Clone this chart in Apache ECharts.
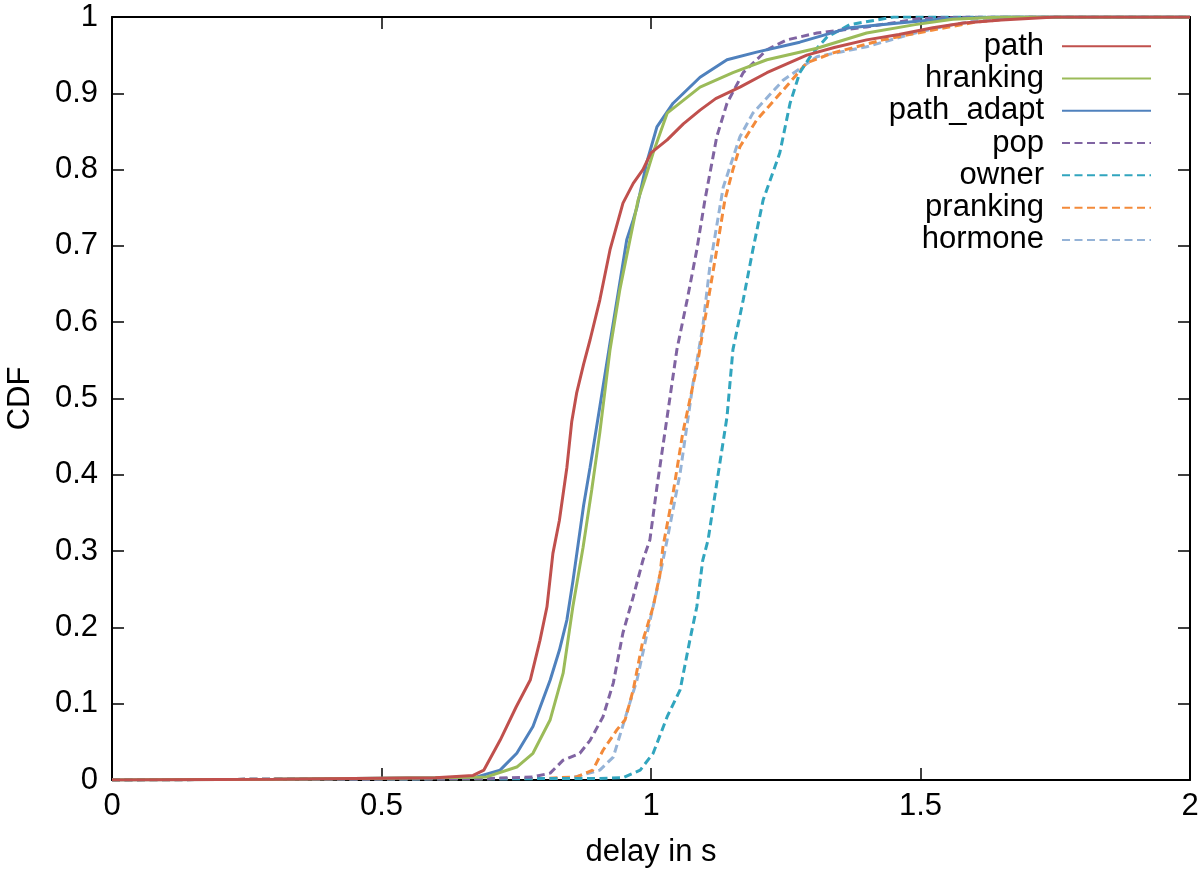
<!DOCTYPE html>
<html><head><meta charset="utf-8">
<script src="https://cdn.jsdelivr.net/npm/echarts@6/dist/echarts.min.js"></script>
<style>html,body{margin:0;padding:0;background:#fff}#c{width:1200px;height:869px}</style>
</head><body><div id="c"></div>
<script>
const seriesNames = ['path','hranking','path_adapt','pop','owner','pranking','hormone'];
const xTicks = [0, 0.5, 1, 1.5, 2];
const yTicks = [0,0.1,0.2,0.3,0.4,0.5,0.6,0.7,0.8,0.9,1];
const pathData = [[0,0],[0.3,0.001],[0.6,0.003],[0.67,0.006],[0.69,0.013],[0.72,0.052],[0.75,0.096],[0.776,0.131],[0.794,0.183],[0.807,0.227],[0.818,0.297],[0.83,0.34],[0.844,0.41],[0.853,0.47],[0.862,0.507],[0.875,0.545],[0.887,0.577],[0.905,0.629],[0.924,0.695],[0.948,0.756],[0.967,0.782],[0.985,0.80],[1.0,0.822],[1.03,0.839],[1.06,0.86],[1.091,0.878],[1.12,0.893],[1.165,0.908],[1.215,0.927],[1.289,0.95],[1.34,0.96],[1.40,0.97],[1.46,0.977],[1.523,0.986],[1.58,0.992],[1.65,0.996],[1.75,1],[2,1]];
const hrankingData = [[0,0],[0.3,0.001],[0.6,0.003],[0.695,0.004],[0.751,0.017],[0.781,0.035],[0.813,0.079],[0.837,0.14],[0.855,0.227],[0.874,0.305],[0.89,0.38],[0.905,0.455],[0.924,0.564],[0.942,0.642],[0.961,0.708],[0.976,0.76],[0.99,0.79],[1.004,0.822],[1.03,0.874],[1.091,0.908],[1.152,0.927],[1.215,0.944],[1.308,0.959],[1.40,0.979],[1.49,0.99],[1.56,0.997],[1.65,1],[2,1]];
const pathAdaptData = [[0,0],[0.3,0.001],[0.6,0.003],[0.677,0.004],[0.72,0.013],[0.751,0.035],[0.781,0.07],[0.813,0.131],[0.83,0.17],[0.844,0.21],[0.855,0.26],[0.863,0.3],[0.875,0.36],[0.887,0.41],[0.905,0.489],[0.924,0.573],[0.942,0.651],[0.955,0.708],[0.967,0.734],[0.974,0.751],[0.992,0.809],[1.011,0.856],[1.041,0.887],[1.091,0.921],[1.141,0.944],[1.196,0.954],[1.276,0.967],[1.369,0.986],[1.46,0.992],[1.55,0.998],[1.65,1],[2,1]];
const popData = [[0,0],[0.3,0.001],[0.7,0.002],[0.781,0.004],[0.813,0.009],[0.837,0.026],[0.868,0.035],[0.887,0.052],[0.911,0.083],[0.93,0.127],[0.948,0.193],[0.967,0.24],[0.985,0.288],[0.998,0.315],[1.011,0.384],[1.03,0.476],[1.048,0.564],[1.067,0.629],[1.085,0.695],[1.10,0.76],[1.122,0.843],[1.141,0.887],[1.171,0.927],[1.215,0.957],[1.252,0.97],[1.308,0.979],[1.40,0.987],[1.5,0.998],[1.6,1],[2,1]];
const ownerData = [[0,0],[0.3,0.001],[0.9,0.002],[0.948,0.003],[0.98,0.013],[1.004,0.035],[1.03,0.083],[1.054,0.118],[1.072,0.183],[1.085,0.227],[1.096,0.288],[1.106,0.315],[1.122,0.389],[1.141,0.476],[1.152,0.564],[1.171,0.629],[1.189,0.695],[1.208,0.76],[1.239,0.822],[1.258,0.887],[1.276,0.927],[1.30,0.953],[1.327,0.974],[1.369,0.99],[1.45,1],[2,1]];
const prankingData = [[0,0],[0.3,0.001],[0.8,0.002],[0.862,0.004],[0.892,0.013],[0.911,0.039],[0.937,0.066],[0.952,0.079],[0.967,0.118],[0.985,0.183],[1.004,0.227],[1.017,0.271],[1.022,0.305],[1.041,0.376],[1.059,0.455],[1.085,0.541],[1.104,0.62],[1.122,0.695],[1.137,0.76],[1.152,0.8],[1.165,0.83],[1.196,0.865],[1.245,0.904],[1.289,0.94],[1.338,0.953],[1.43,0.97],[1.523,0.983],[1.6,0.993],[1.7,1],[2,1]];
const hormoneData = [[0,0],[0.3,0.001],[0.85,0.002],[0.905,0.013],[0.93,0.03],[0.955,0.088],[0.974,0.131],[0.993,0.193],[1.011,0.249],[1.03,0.315],[1.054,0.402],[1.078,0.52],[1.096,0.594],[1.109,0.672],[1.134,0.777],[1.165,0.843],[1.189,0.874],[1.245,0.917],[1.308,0.948],[1.40,0.961],[1.49,0.979],[1.56,0.99],[1.65,1],[2,1]];

const allData = [pathData, hrankingData, pathAdaptData, popData, ownerData, prankingData, hormoneData];
const colors = ['#C0504D','#9BBB59','#4F81BD','#8064A2','#31A5BE','#F38A3A','#95B3D7'];
const dashed = [false,false,false,true,true,true,true];
const FONT = 'Liberation Sans, Arial, Helvetica, sans-serif';
const FS = 31;

const chart = echarts.init(document.getElementById('c'));
const axisLine = {show:true, onZero:false, lineStyle:{color:'#000', width:2}};
const tickStyle = {show:true, inside:true, length:12, lineStyle:{color:'#000', width:1.5}};
chart.setOption({
  animation:false,
  backgroundColor:'#fff',
  grid:{left:112, top:17, right:10, bottom:89, containLabel:false, outerBoundsMode:'none'},
  legend:{
    orient:'vertical', align:'right', right:48, top:30, padding:0,
    itemWidth:89, itemHeight:14, itemGap:0,
    data: seriesNames,
    itemStyle:{opacity:0},
    textStyle:{fontFamily:FONT, fontSize:FS, lineHeight:32.3, color:'#000', padding:[0,13,0,0]}
  },
  xAxis:[{
    type:'value', min:0, max:2, interval:0.5, position:'bottom',
    name:'delay in s', nameLocation:'middle', nameGap:57,
    nameTextStyle:{fontFamily:FONT, fontSize:FS, color:'#000'},
    axisLine, axisTick:tickStyle, splitLine:{show:false},
    axisLabel:{fontFamily:FONT, fontSize:FS, color:'#000', margin:11,
      formatter:v=>String(v)}
  },{
    type:'value', min:0, max:2, interval:0.5, position:'top',
    axisLine, axisTick:tickStyle, splitLine:{show:false}, axisLabel:{show:false}
  }],
  yAxis:[{
    type:'value', min:0, max:1, interval:0.1, position:'left',
    name:'CDF', nameLocation:'middle', nameGap:76, nameRotate:90,
    nameTextStyle:{fontFamily:FONT, fontSize:FS, color:'#000'},
    axisLine, axisTick:tickStyle, splitLine:{show:false},
    axisLabel:{fontFamily:FONT, fontSize:FS, color:'#000', margin:14,
      formatter:v=>String(Math.round(v*10)/10)}
  },{
    type:'value', min:0, max:1, interval:0.1, position:'right',
    axisLine, axisTick:tickStyle, splitLine:{show:false}, axisLabel:{show:false}
  }],
  series: seriesNames.map((n,i)=>({
    name:n, type:'line', data:allData[i], symbol:'none', showSymbol:false,
    color:colors[i],
    lineStyle:{color:colors[i], width:3, type: dashed[i] ? [8,4.5] : 'solid'},
    itemStyle:{color:colors[i]},
    z: 10 - i
  }))
});
</script></body></html>
